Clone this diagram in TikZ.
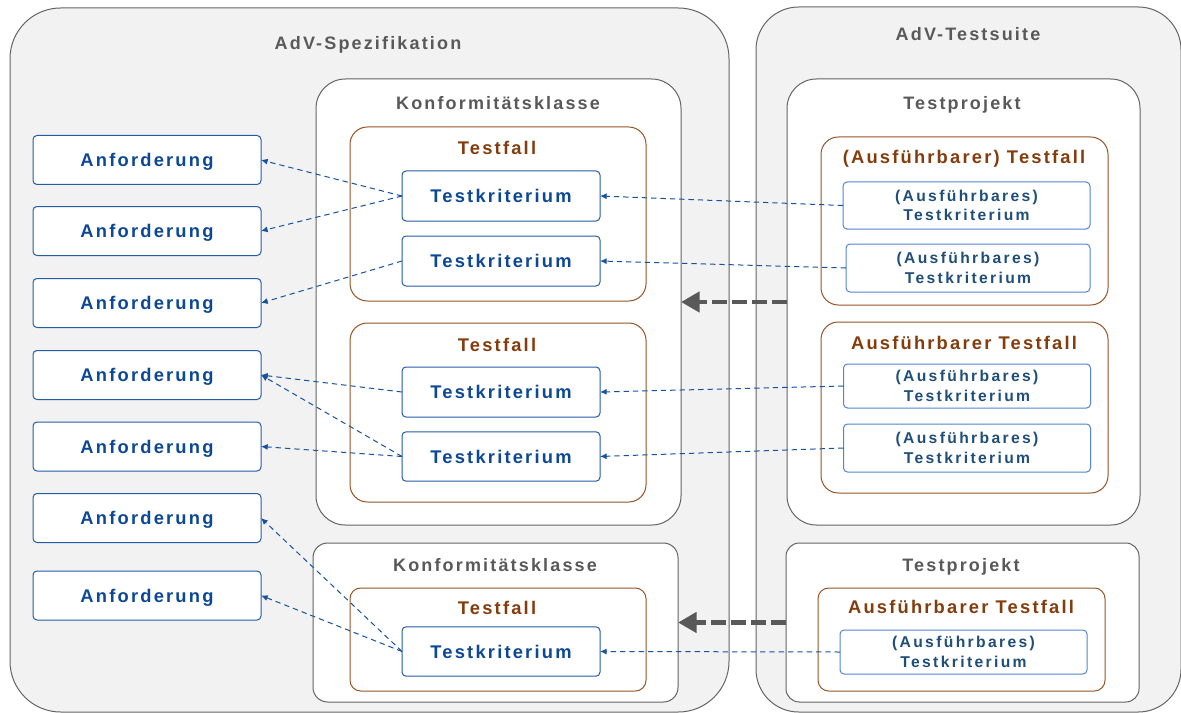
\documentclass[tikz,border=0pt]{standalone}
\usepackage{fontspec}
\usetikzlibrary{arrows.meta}

\newfontfamily\diafont{Liberation Sans}[LetterSpace=12]
\newfontfamily\smalldiafont{Liberation Sans}[LetterSpace=15]
\definecolor{frameGray}{RGB}{100,100,100}
\definecolor{titleGray}{RGB}{89,89,89}
\definecolor{backGray}{RGB}{242,242,242}
\definecolor{caseBrown}{RGB}{152,84,38}
\definecolor{caseText}{RGB}{132,60,12}
\definecolor{critBlue}{RGB}{36,92,166}
\definecolor{critText}{RGB}{12,72,150}
\definecolor{execBlue}{RGB}{84,132,212}
\definecolor{execText}{RGB}{31,78,121}
\definecolor{linkBlue}{RGB}{22,82,160}

\tikzset{
  outerbox/.style={draw=frameGray, fill=backGray, line width=0.75pt, inner sep=0pt, outer sep=0pt},
  innerbox/.style={draw=frameGray, fill=white, line width=0.75pt, inner sep=0pt, outer sep=0pt},
  casebox/.style={draw=caseBrown, fill=white, line width=0.75pt, rounded corners=13pt, inner sep=0pt, outer sep=0pt},
  critbox/.style={draw=critBlue, fill=white, line width=0.75pt, rounded corners=3pt, inner sep=0pt, outer sep=0pt,
    text=critText, font=\diafont\bfseries\fontsize{13.75}{16}\selectfont, text height=9.8pt, text depth=0pt},
  execbox/.style={draw=execBlue, fill=white, line width=0.75pt, rounded corners=3pt, inner sep=0pt, outer sep=0pt,
    text=execText, align=center, font=\smalldiafont\bfseries\fontsize{11.75}{14.5}\selectfont},
  headtext/.style={anchor=base, text=titleGray, font=\diafont\bfseries\fontsize{13.5}{16}\selectfont},
  casetext/.style={anchor=base, text=caseText, font=\diafont\bfseries\fontsize{13.75}{16}\selectfont},
  reqlink/.style={draw=linkBlue, line width=0.75pt, dash pattern=on 4pt off 3pt, -{Latex[length=5pt,width=4.5pt]}},
  implink/.style={draw=titleGray, line width=3.5pt, dash pattern=on 11pt off 4pt, -{Triangle[length=14pt,width=15pt]}}
}

\begin{document}
\begin{tikzpicture}[x=0.75pt,y=0.75pt,yscale=-1,xscale=1]
\path[use as bounding box] (0,0) rectangle (1181,713);

%Shape: Rounded Rectangle
\node [outerbox, rounded corners=38pt, minimum width=539.25pt, minimum height=528pt] (spec) at (369.5,360) {};
\node [outerbox, rounded corners=32pt, minimum width=318.75pt, minimum height=528.75pt] (suite) at (968.5,359.5) {};

%Shape: Rounded Rectangle
\node [innerbox, rounded corners=22pt, minimum width=273.75pt, minimum height=334.5pt] (klasseA) at (498.5,302) {};
\node [innerbox, rounded corners=11pt, minimum width=273.75pt, minimum height=119.25pt] (klasseB) at (495.5,622.5) {};
\node [innerbox, rounded corners=22pt, minimum width=264.75pt, minimum height=334.5pt] (projektA) at (963.5,302) {};
\node [innerbox, rounded corners=10pt, minimum width=264.75pt, minimum height=119.25pt] (projektB) at (962.5,622.5) {};

%Shape: Testfall
\node [casebox, minimum width=222pt, minimum height=130.5pt] (fallA) at (498,214) {};
\node [casebox, minimum width=222pt, minimum height=134.25pt] (fallB) at (498,412.5) {};
\node [casebox, rounded corners=8pt, minimum width=222pt, minimum height=77.25pt] (fallC) at (498,639.5) {};
\node [casebox, minimum width=215.25pt, minimum height=126pt] (efallA) at (964.5,221) {};
\node [casebox, minimum width=215.25pt, minimum height=128.25pt] (efallB) at (964.5,407.5) {};
\node [casebox, rounded corners=8pt, minimum width=215.25pt, minimum height=77.25pt] (efallC) at (961.5,639.5) {};

%Shape: Anforderung
\node [critbox, minimum width=171pt, minimum height=36.75pt] (anf1) at (147,160) {Anforderung};
\node [critbox, minimum width=171pt, minimum height=36.75pt] (anf2) at (147,231) {Anforderung};
\node [critbox, minimum width=171pt, minimum height=36.75pt] (anf3) at (147,303) {Anforderung};
\node [critbox, minimum width=171pt, minimum height=36.75pt] (anf4) at (147,375) {Anforderung};
\node [critbox, minimum width=171pt, minimum height=36.75pt] (anf5) at (147,446.5) {Anforderung};
\node [critbox, minimum width=171pt, minimum height=36.75pt] (anf6) at (147,518) {Anforderung};
\node [critbox, minimum width=171pt, minimum height=36.75pt] (anf7) at (147,595.5) {Anforderung};

%Shape: Testkriterium
\node [critbox, minimum width=148.5pt, minimum height=37.5pt] (krit1) at (501,196) {Testkriterium};
\node [critbox, minimum width=148.5pt, minimum height=37.5pt] (krit2) at (501,261) {Testkriterium};
\node [critbox, minimum width=148.5pt, minimum height=37.5pt] (krit3) at (501,392) {Testkriterium};
\node [critbox, minimum width=148.5pt, minimum height=37pt] (krit4) at (501,456.5) {Testkriterium};
\node [critbox, minimum width=148.5pt, minimum height=37pt] (krit5) at (501,651.5) {Testkriterium};

%Shape: Ausfuehrbares Testkriterium
\node [execbox, minimum width=185.25pt, minimum height=35.25pt] (ekrit1) at (966.5,205.5) {(Ausführbares)\\Testkriterium};
\node [execbox, minimum width=183pt, minimum height=36pt] (ekrit2) at (968,268) {(Ausführbares)\\Testkriterium};
\node [execbox, minimum width=185.25pt, minimum height=33pt] (ekrit3) at (967,386) {(Ausführbares)\\Testkriterium};
\node [execbox, minimum width=185.25pt, minimum height=36pt] (ekrit4) at (967,448) {(Ausführbares)\\Testkriterium};
\node [execbox, minimum width=185.25pt, minimum height=33pt] (ekrit5) at (963.5,652) {(Ausführbares)\\Testkriterium};

% Text Node
\node [headtext] (specTitle) at (368,50) {AdV-Spezifikation};
\node [headtext] (suiteTitle) at (968,41) {AdV-Testsuite};
\node [headtext] (klasseATitle) at (498,109.5) {Konformitätsklasse};
\node [headtext] (klasseBTitle) at (495,571) {Konformitätsklasse};
\node [headtext] (projektATitle) at (962,110) {Testprojekt};
\node [headtext] (projektBTitle) at (961,571.5) {Testprojekt};
% Text Node
\node [casetext] (fallATitle) at (497,155) {Testfall};
\node [casetext] (fallBTitle) at (497,351.5) {Testfall};
\node [casetext] (fallCTitle) at (497,614) {Testfall};
\node [casetext] (efallATitle) at (964,163.5) {(Ausführbarer) Testfall};
\node [casetext] (efallBTitle) at (964,349.5) {Ausführbarer Testfall};
\node [casetext] (efallCTitle) at (961,613.5) {Ausführbarer Testfall};

%Straight Lines
\draw [reqlink] (krit1.west) -- (anf1.east);
\draw [reqlink] (krit1.west) -- (anf2.east);
\draw [reqlink] (krit2.west) -- (anf3.east);
\draw [reqlink] (krit3.west) -- (anf4.east);
\draw [reqlink] (krit4.west) -- (anf4.east);
\draw [reqlink] (krit4.west) -- (anf5.east);
\draw [reqlink] (krit5.west) -- (anf6.east);
\draw [reqlink] (krit5.west) -- (anf7.east);
%Straight Lines
\draw [reqlink] (ekrit1.west) -- (krit1.east);
\draw [reqlink] (ekrit2.west) -- (krit2.east);
\draw [reqlink] (ekrit3.west) -- (krit3.east);
\draw [reqlink] (ekrit4.west) -- (krit4.east);
\draw [reqlink] (ekrit5.west) -- (krit5.east);
%Straight Lines
\draw [implink] (projektA.west) -- (klasseA.east);
\draw [implink] (projektB.west) -- (klasseB.east);

\end{tikzpicture}
\end{document}
